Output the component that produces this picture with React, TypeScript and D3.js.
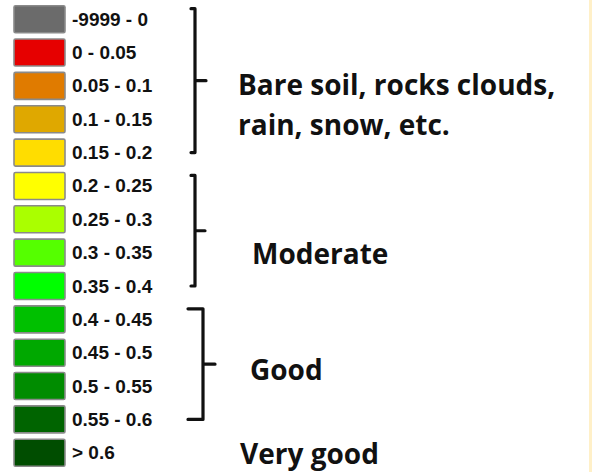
import React, { useEffect, useRef } from 'react';
import * as d3 from 'd3';

// legend classes (NDVI ranges) and their swatch colours
const classLabels = [
  '-9999 - 0',
  '0 - 0.05',
  '0.05 - 0.1',
  '0.1 - 0.15',
  '0.15 - 0.2',
  '0.2 - 0.25',
  '0.25 - 0.3',
  '0.3 - 0.35',
  '0.35 - 0.4',
  '0.4 - 0.45',
  '0.45 - 0.5',
  '0.5 - 0.55',
  '0.55 - 0.6',
  '> 0.6',
];
const classColors = [
  '#6b6b6b',
  '#e60000',
  '#e07b00',
  '#dfa800',
  '#ffdd00',
  '#ffff00',
  '#aaff00',
  '#55ff00',
  '#00ff00',
  '#00c000',
  '#00a800',
  '#008c00',
  '#006400',
  '#004d00',
];

// groups: first class, last class, text lines
const groupNames = [['Bare soil, rocks clouds,', 'rain, snow, etc.'], ['Moderate'], ['Good'], ['Very good']];
const groupFirst = [0, 5, 9, 13];
const groupLast = [4, 8, 12, 13];

// layout per group (brace x, hook length, tick length, text x, text baselines)
const braceLayout = [
  { x: 195, hook: 4, tick: 11, tx: 238, ty: [95, 135] },
  { x: 195, hook: 4, tick: 10, tx: 252, ty: [264] },
  { x: 203, hook: 15, tick: 12, tx: 250, ty: [380] },
  { x: 0, hook: 0, tick: 0, tx: 240, ty: [464] },
];

const App = () => {
  const ref = useRef<SVGSVGElement>(null);

  useEffect(() => {
    const svg = d3.select(ref.current);
    svg.selectAll('*').remove();

    const width = 592;
    const height = 472;
    const boxH = 27;

    svg.append('rect').attr('width', width).attr('height', height).attr('fill', '#ffffff');
    svg.append('rect').attr('x', 589).attr('y', 0).attr('width', 3).attr('height', height).attr('fill', '#fff0c8');

    const y = d3.scaleLinear().domain([0, classLabels.length - 1]).range([5.7, 5.7 + 13 * 33.35]);

    const rows = svg
      .selectAll('.row')
      .data(classLabels)
      .enter()
      .append('g')
      .attr('class', 'row')
      .attr('transform', (d, i) => `translate(0,${y(i)})`);

    rows
      .append('rect')
      .attr('x', 14)
      .attr('y', 0)
      .attr('width', 51)
      .attr('height', boxH)
      .attr('rx', 1.5)
      .attr('fill', (d, i) => classColors[i])
      .attr('stroke', '#8a8a8a')
      .attr('stroke-width', 1.6);

    rows
      .append('text')
      .attr('x', 72)
      .attr('y', boxH / 2 + 6.5)
      .attr('font-family', '"Liberation Sans", Arial, sans-serif')
      .attr('font-weight', 700)
      .attr('font-size', 19)
      .attr('fill', '#111')
      .text((d) => d);

    groupNames.forEach((lines, g) => {
      const lay = braceLayout[g];
      if (groupFirst[g] !== groupLast[g]) {
        const top = y(groupFirst[g]) + 3;
        const bottom = y(groupLast[g]) + boxH / 2;
        const mid = (top + bottom) / 2;
        const p = d3.path();
        p.moveTo(lay.x - lay.hook, top);
        p.lineTo(lay.x, top);
        p.lineTo(lay.x, bottom);
        p.lineTo(lay.x - lay.hook, bottom);
        p.moveTo(lay.x, mid);
        p.lineTo(lay.x + lay.tick, mid);
        svg
          .append('path')
          .attr('d', p.toString())
          .attr('fill', 'none')
          .attr('stroke', '#111')
          .attr('stroke-width', 3.2)
          .attr('stroke-linejoin', 'round')
          .attr('stroke-linecap', 'round');
      }
      lines.forEach((line, k) => {
        svg
          .append('text')
          .attr('x', lay.tx)
          .attr('y', lay.ty[k])
          .attr('font-family', '"Open Sans", Lato, sans-serif')
          .attr('font-weight', 700)
          .attr('font-size', 28)
          .attr('fill', '#111')
          .text(line);
      });
    });
  }, []);

  return (
    <svg
      ref={ref}
      width={592}
      height={472}
      style={{ position: 'absolute', left: 0, top: 0, display: 'block' }}
    ></svg>
  );
};

export default App;
